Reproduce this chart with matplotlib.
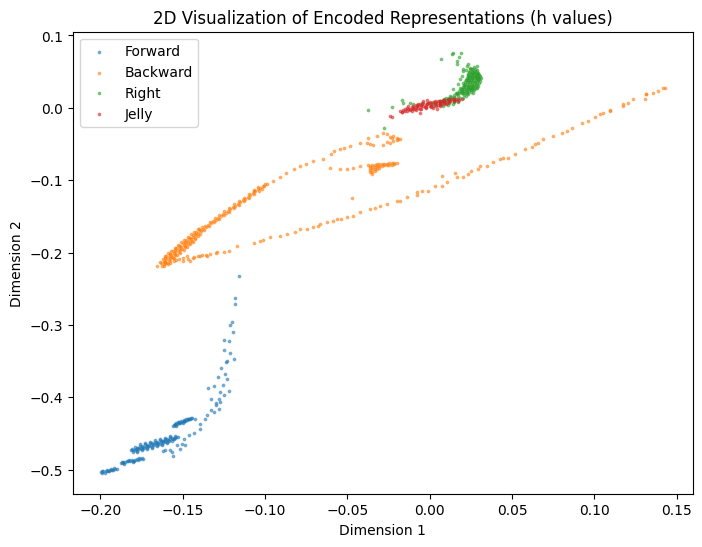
import numpy as np
import matplotlib
matplotlib.use("Agg")
import matplotlib.pyplot as plt

# points (Dimension 1, Dimension 2)
forward_pts = [
    # sparse tail going up
    (-0.1161, -0.2328), (-0.1181, -0.2632), (-0.1185, -0.2710), (-0.1199, -0.2963),
    (-0.1211, -0.3000), (-0.1193, -0.3092), (-0.1221, -0.3221), (-0.1248, -0.3207),
    (-0.1252, -0.3345), (-0.1211, -0.3390), (-0.1187, -0.3469), (-0.1231, -0.3492),
    (-0.1237, -0.3514), (-0.1268, -0.3597), (-0.1242, -0.3676), (-0.1288, -0.3721),
    (-0.1231, -0.3745), (-0.1258, -0.3828), (-0.1349, -0.3873), (-0.1313, -0.3846),
    (-0.1217, -0.3915), (-0.1272, -0.3928), (-0.1326, -0.4021), (-0.1282, -0.4021),
    (-0.1252, -0.3975), (-0.1276, -0.4066), (-0.1298, -0.4113), (-0.1282, -0.4159),
    (-0.1313, -0.4204), (-0.1353, -0.4251), (-0.1363, -0.4297), (-0.1393, -0.4366),
    (-0.1424, -0.4297), (-0.1393, -0.4434), (-0.1434, -0.4490), (-0.1464, -0.4527),
    (-0.1495, -0.4572), (-0.1330, -0.4180), (-0.1300, -0.4080),
    # scattered under the big cluster
    (-0.1504, -0.4641), (-0.1535, -0.4665), (-0.1575, -0.4734), (-0.1605, -0.4734),
    (-0.1565, -0.4756), (-0.1515, -0.4710), (-0.1484, -0.4655), (-0.1559, -0.4811),
    (-0.1620, -0.4742),
    # small cluster near -0.435
    (-0.1555, -0.4389), (-0.1545, -0.4380), (-0.1535, -0.4371), (-0.1525, -0.4361),
    (-0.1515, -0.4352), (-0.1505, -0.4343), (-0.1495, -0.4334), (-0.1485, -0.4325),
    (-0.1475, -0.4315), (-0.1465, -0.4306), (-0.1455, -0.4297), (-0.1445, -0.4288),
    (-0.1530, -0.4345), (-0.1510, -0.4330), (-0.1490, -0.4315), (-0.1470, -0.4295),
    (-0.1540, -0.4395), (-0.1500, -0.4360), (-0.1550, -0.4375), (-0.1520, -0.4348),
    (-0.1490, -0.4322), (-0.1460, -0.4296), (-0.1540, -0.4360), (-0.1480, -0.4305),
    (-0.1450, -0.4280), (-0.1560, -0.4400),
    # big cluster near -0.465
    (-0.1815, -0.4732), (-0.1800, -0.4723), (-0.1785, -0.4713), (-0.1770, -0.4704),
    (-0.1755, -0.4694), (-0.1740, -0.4685), (-0.1725, -0.4675), (-0.1710, -0.4666),
    (-0.1695, -0.4656), (-0.1680, -0.4647), (-0.1665, -0.4637), (-0.1650, -0.4628),
    (-0.1635, -0.4619), (-0.1620, -0.4609), (-0.1605, -0.4600), (-0.1590, -0.4590),
    (-0.1575, -0.4581), (-0.1560, -0.4571), (-0.1545, -0.4562), (-0.1530, -0.4552),
    (-0.1790, -0.4686), (-0.1760, -0.4667), (-0.1730, -0.4648), (-0.1700, -0.4630),
    (-0.1670, -0.4611), (-0.1640, -0.4592), (-0.1610, -0.4573), (-0.1580, -0.4554),
    (-0.1550, -0.4535),
    (-0.1805, -0.4756), (-0.1775, -0.4737), (-0.1745, -0.4718), (-0.1715, -0.4699),
    (-0.1685, -0.4680), (-0.1655, -0.4661), (-0.1625, -0.4642), (-0.1595, -0.4623),
    (-0.1565, -0.4604),
    (-0.1808, -0.4713), (-0.1778, -0.4694), (-0.1748, -0.4675), (-0.1718, -0.4656),
    (-0.1688, -0.4637), (-0.1658, -0.4618), (-0.1628, -0.4599), (-0.1598, -0.4580),
    (-0.1568, -0.4561), (-0.1538, -0.4542),
    (-0.1793, -0.4733), (-0.1763, -0.4714), (-0.1733, -0.4695), (-0.1703, -0.4676),
    (-0.1673, -0.4658), (-0.1643, -0.4639), (-0.1613, -0.4620), (-0.1583, -0.4601),
    (-0.1553, -0.4582),
    (-0.1760, -0.4652), (-0.1730, -0.4633), (-0.1700, -0.4615), (-0.1670, -0.4596),
    (-0.1640, -0.4577), (-0.1610, -0.4558), (-0.1580, -0.4539),
    (-0.1775, -0.4752), (-0.1745, -0.4733), (-0.1715, -0.4714), (-0.1685, -0.4695),
    (-0.1655, -0.4676), (-0.1625, -0.4657), (-0.1595, -0.4638),
    # cluster near -0.488
    (-0.1878, -0.4903), (-0.1863, -0.4897), (-0.1848, -0.4891), (-0.1833, -0.4885),
    (-0.1818, -0.4880), (-0.1803, -0.4874), (-0.1788, -0.4868), (-0.1773, -0.4862),
    (-0.1758, -0.4856), (-0.1743, -0.4850), (-0.1855, -0.4915), (-0.1825, -0.4870),
    (-0.1795, -0.4885), (-0.1765, -0.4842), (-0.1870, -0.4890), (-0.1840, -0.4878),
    (-0.1810, -0.4866), (-0.1780, -0.4855), (-0.1750, -0.4843), (-0.1860, -0.4910),
    (-0.1800, -0.4890),
    # cluster near -0.50
    (-0.1996, -0.5032), (-0.1982, -0.5025), (-0.1968, -0.5019), (-0.1954, -0.5012),
    (-0.1940, -0.5005), (-0.1926, -0.4999), (-0.1912, -0.4992), (-0.1900, -0.4986),
    (-0.1975, -0.5040), (-0.1950, -0.5025), (-0.1935, -0.4992), (-0.1990, -0.5020),
    (-0.1960, -0.5005), (-0.1930, -0.5000), (-0.1990, -0.5042), (-0.1915, -0.4980),
]

backward_pts = [
    # upper band, dense part
    (-0.1656, -0.2182), (-0.1630, -0.2148), (-0.1615, -0.2120), (-0.1600, -0.2092),
    (-0.1585, -0.2065), (-0.1570, -0.2037), (-0.1555, -0.2009), (-0.1540, -0.1981),
    (-0.1525, -0.1954), (-0.1510, -0.1926), (-0.1495, -0.1898), (-0.1480, -0.1870),
    (-0.1465, -0.1842), (-0.1450, -0.1814), (-0.1435, -0.1785), (-0.1420, -0.1757),
    (-0.1405, -0.1729), (-0.1390, -0.1700), (-0.1375, -0.1672), (-0.1360, -0.1644),
    (-0.1345, -0.1617), (-0.1330, -0.1593), (-0.1315, -0.1568), (-0.1300, -0.1544),
    (-0.1285, -0.1520), (-0.1270, -0.1496), (-0.1255, -0.1471), (-0.1240, -0.1447),
    (-0.1225, -0.1423), (-0.1210, -0.1398), (-0.1195, -0.1375), (-0.1180, -0.1351),
    (-0.1165, -0.1327), (-0.1150, -0.1303), (-0.1135, -0.1279), (-0.1120, -0.1255),
    (-0.1105, -0.1230), (-0.1090, -0.1205), (-0.1075, -0.1179), (-0.1060, -0.1154),
    (-0.1045, -0.1128), (-0.1030, -0.1103), (-0.1015, -0.1077), (-0.1000, -0.1052),
    (-0.1620, -0.2089), (-0.1600, -0.2052), (-0.1580, -0.2015), (-0.1560, -0.1978),
    (-0.1540, -0.1941), (-0.1520, -0.1904), (-0.1500, -0.1867), (-0.1480, -0.1830),
    (-0.1460, -0.1793), (-0.1440, -0.1755), (-0.1420, -0.1717), (-0.1400, -0.1679),
    (-0.1380, -0.1641),
    (-0.1625, -0.2179), (-0.1605, -0.2142), (-0.1585, -0.2105), (-0.1565, -0.2068),
    (-0.1545, -0.2031), (-0.1525, -0.1994), (-0.1505, -0.1956), (-0.1485, -0.1919),
    (-0.1465, -0.1882), (-0.1445, -0.1844), (-0.1425, -0.1806), (-0.1405, -0.1769),
    (-0.1637, -0.2133), (-0.1607, -0.2077), (-0.1577, -0.2022), (-0.1547, -0.1966),
    (-0.1517, -0.1911), (-0.1487, -0.1855), (-0.1457, -0.1799), (-0.1427, -0.1742),
    (-0.1397, -0.1685), (-0.1367, -0.1629), (-0.1337, -0.1578), (-0.1307, -0.1529),
    (-0.1277, -0.1481), (-0.1247, -0.1432), (-0.1217, -0.1383), (-0.1187, -0.1336),
    (-0.1157, -0.1288), (-0.1127, -0.1240), (-0.1097, -0.1190), (-0.1067, -0.1139),
    (-0.1608, -0.2135), (-0.1578, -0.2080), (-0.1548, -0.2024), (-0.1518, -0.1969),
    (-0.1488, -0.1913), (-0.1458, -0.1857), (-0.1428, -0.1800), (-0.1398, -0.1744),
    (-0.1368, -0.1687), (-0.1338, -0.1632), (-0.1308, -0.1583), (-0.1278, -0.1535),
    (-0.1248, -0.1486), (-0.1218, -0.1438), (-0.1188, -0.1390), (-0.1158, -0.1342),
    (-0.1128, -0.1294), (-0.1098, -0.1245), (-0.1068, -0.1194), (-0.1038, -0.1143),
    (-0.1610, -0.2046), (-0.1590, -0.2009), (-0.1570, -0.1972), (-0.1550, -0.1935),
    (-0.1530, -0.1898), (-0.1510, -0.1861), (-0.1490, -0.1824), (-0.1470, -0.1786),
    (-0.1450, -0.1749), (-0.1430, -0.1711), (-0.1410, -0.1673),
    (-0.1615, -0.2185), (-0.1595, -0.2148), (-0.1575, -0.2111), (-0.1555, -0.2074),
    (-0.1535, -0.2037), (-0.1515, -0.2000), (-0.1495, -0.1963), (-0.1475, -0.1926),
    (-0.1455, -0.1888), (-0.1435, -0.1850),
    (-0.1070, -0.1150), (-0.1040, -0.1100), (-0.1020, -0.1115), (-0.1005, -0.1080),
    # upper band, sparse continuation
    (-0.0988, -0.1055), (-0.0908, -0.0963), (-0.0827, -0.0848), (-0.0786, -0.0803),
    (-0.0706, -0.0734), (-0.0645, -0.0701), (-0.0584, -0.0596), (-0.0544, -0.0563),
    (-0.0483, -0.0527), (-0.0422, -0.0480), (-0.0372, -0.0411), (-0.0321, -0.0389),
    (-0.0281, -0.0342), (-0.0950, -0.1010), (-0.0870, -0.0900), (-0.0750, -0.0770),
    (-0.0600, -0.0640), (-0.0520, -0.0560),
    # upper band, end cluster
    (-0.0260, -0.0366), (-0.0220, -0.0389), (-0.0180, -0.0425), (-0.0240, -0.0480),
    (-0.0281, -0.0517), (-0.0342, -0.0517), (-0.0362, -0.0503), (-0.0220, -0.0458),
    (-0.0200, -0.0411), (-0.0382, -0.0480), (-0.0240, -0.0400), (-0.0200, -0.0440),
    (-0.0190, -0.0430), (-0.0230, -0.0420), (-0.0260, -0.0470),
    # middle branch
    (-0.0604, -0.0825), (-0.0544, -0.0848), (-0.0503, -0.0839), (-0.0463, -0.0825),
    (-0.0422, -0.0803), (-0.0372, -0.0793), (-0.0473, -0.1252),
    (-0.0365, -0.0800), (-0.0365, -0.0830), (-0.0365, -0.0860), (-0.0365, -0.0890),
    (-0.0350, -0.0790), (-0.0350, -0.0820), (-0.0350, -0.0850), (-0.0350, -0.0885),
    (-0.0350, -0.0910), (-0.0335, -0.0785), (-0.0335, -0.0815), (-0.0335, -0.0845),
    (-0.0335, -0.0875), (-0.0320, -0.0780), (-0.0320, -0.0810), (-0.0320, -0.0840),
    (-0.0305, -0.0778), (-0.0305, -0.0805), (-0.0305, -0.0830), (-0.0290, -0.0775),
    (-0.0290, -0.0800), (-0.0275, -0.0772), (-0.0275, -0.0795), (-0.0260, -0.0770),
    (-0.0260, -0.0790), (-0.0245, -0.0768), (-0.0245, -0.0788), (-0.0230, -0.0765),
    (-0.0230, -0.0785), (-0.0215, -0.0762), (-0.0215, -0.0780), (-0.0200, -0.0760),
    # lower branch
    (-0.1616, -0.2159), (-0.1555, -0.2113), (-0.1474, -0.2044), (-0.1454, -0.2113),
    (-0.1393, -0.2044), (-0.1332, -0.2021), (-0.1292, -0.1997), (-0.1221, -0.1975),
    (-0.1171, -0.1906), (-0.1070, -0.1869), (-0.1029, -0.1837), (-0.0968, -0.1790),
    (-0.0908, -0.1768), (-0.0867, -0.1745), (-0.0786, -0.1676), (-0.0746, -0.1676),
    (-0.0706, -0.1652), (-0.0665, -0.1607), (-0.0624, -0.1583), (-0.0564, -0.1538),
    (-0.0503, -0.1514), (-0.0463, -0.1492), (-0.0422, -0.1446), (-0.0362, -0.1400),
    (-0.0301, -0.1363), (-0.0260, -0.1331), (-0.0200, -0.1286), (-0.0139, -0.1239),
    (-0.0078, -0.1170), (-0.1580, -0.2140), (-0.1520, -0.2090), (-0.1500, -0.2120),
    (-0.1430, -0.2060), (-0.1360, -0.2040), (-0.1250, -0.1990), (-0.1010, -0.1820),
    (-0.0820, -0.1720), (-0.0680, -0.1630), (-0.0590, -0.1560), (-0.0540, -0.1530),
    (-0.0330, -0.1380), (-0.1560, -0.2080), (-0.1540, -0.2100), (-0.1500, -0.2080),
    (-0.1470, -0.2090), (-0.1440, -0.2070), (-0.1410, -0.2050), (-0.1380, -0.2030),
    (-0.1350, -0.2050), (-0.1300, -0.2010), (-0.1610, -0.2130), (-0.1590, -0.2160),
    (-0.0180, -0.1286), (-0.0078, -0.1207), (-0.0048, -0.1148), (-0.0008, -0.1148),
    (0.0033, -0.1079), (0.0073, -0.1079), (0.0073, -0.0949), (0.0104, -0.1032),
    (0.0154, -0.0894), (0.0164, -0.0963), (0.0205, -0.0963), (0.0235, -0.0917),
    (0.0296, -0.0848), (0.0306, -0.0803), (0.0346, -0.0803), (0.0387, -0.0748),
    (0.0427, -0.0710), (0.0478, -0.0687), (0.0518, -0.0641), (0.0579, -0.0572),
    (0.0620, -0.0535), (0.0660, -0.0480), (0.0690, -0.0434), (0.0751, -0.0389),
    (0.0802, -0.0342), (0.0832, -0.0320), (0.0862, -0.0273), (0.0923, -0.0204),
    (0.0963, -0.0182), (0.1004, -0.0121), (0.1034, -0.0090), (0.1054, -0.0066),
    (0.1095, -0.0030), (0.1095, -0.0044), (0.1175, 0.0048), (0.1175, 0.0025),
    (0.1206, 0.0072), (0.1236, 0.0127), (0.1307, 0.0127), (0.1313, 0.0186),
    (0.1317, 0.0186), (0.1357, 0.0200), (0.1388, 0.0232), (0.1418, 0.0269),
    (0.1428, 0.0269), (0.0250, -0.0880), (0.0445, -0.0700), (0.0640, -0.0500),
]

right_pts = [
    (0.0134, 0.0738), (0.0144, 0.0761), (0.0191, 0.0761), (0.0180, 0.0706),
    (0.0164, 0.0646), (0.0168, 0.0600), (0.0069, 0.0669),
    (-0.0099, 0.0048), (-0.0018, 0.0072), (0.0063, 0.0094), (0.0124, 0.0127),
    (0.0164, 0.0186), (0.0195, 0.0255), (0.0215, 0.0324), (0.0235, 0.0393),
    (0.0255, 0.0462), (0.0275, 0.0508), (0.0245, 0.0554), (0.0225, 0.0577),
    (0.0296, 0.0486), (0.0286, 0.0393), (0.0265, 0.0301), (0.0225, 0.0210),
    (0.0184, 0.0141), (0.0205, 0.0508), (0.0184, 0.0393), (0.0265, 0.0210),
    (0.0245, 0.0255), (0.0306, 0.0439), (0.0286, 0.0577), (0.0235, 0.0600),
    (0.0195, 0.0439), (0.0174, 0.0324), (0.0144, 0.0255), (0.0205, 0.0531),
    (0.0296, 0.0393), (0.0184, 0.0279), (0.0124, 0.0163),
    (0.0280, 0.0440), (0.0270, 0.0360), (0.0250, 0.0330), (0.0240, 0.0280),
    (0.0220, 0.0250), (0.0200, 0.0200), (0.0210, 0.0170), (0.0170, 0.0160),
    (0.0150, 0.0130), (0.0100, 0.0110), (0.0080, 0.0100), (0.0040, 0.0085),
    (0.0260, 0.0420), (0.0300, 0.0460), (0.0290, 0.0520), (0.0260, 0.0500),
    (0.0230, 0.0460), (0.0250, 0.0380), (0.0230, 0.0350), (0.0210, 0.0300),
    (0.0260, 0.0250), (0.0280, 0.0330), (0.0290, 0.0280), (0.0270, 0.0560),
    (0.0300, 0.0400),
    (0.0120, 0.0090), (0.0150, 0.0100), (0.0180, 0.0110), (0.0200, 0.0130),
    (0.0220, 0.0160), (0.0235, 0.0190), (0.0250, 0.0220), (0.0270, 0.0240),
    (0.0280, 0.0270), (0.0295, 0.0300), (0.0300, 0.0340), (0.0305, 0.0370),
    (0.0295, 0.0420), (0.0310, 0.0410), (0.0285, 0.0470), (0.0270, 0.0480),
    (0.0240, 0.0420), (0.0220, 0.0390), (0.0200, 0.0340), (0.0190, 0.0220),
    (0.0160, 0.0200), (0.0130, 0.0150), (0.0100, 0.0130), (0.0060, 0.0070),
    (0.0020, 0.0060), (0.0260, 0.0530), (0.0240, 0.0500), (0.0220, 0.0520),
    (0.0275, 0.0430), (0.0255, 0.0280), (0.0230, 0.0300),
    # dense crescent body
    (0.0165, 0.0200), (0.0180, 0.0200), (0.0195, 0.0200), (0.0210, 0.0200), (0.0225, 0.0200),
    (0.0180, 0.0230), (0.0195, 0.0230), (0.0210, 0.0230), (0.0225, 0.0230), (0.0240, 0.0230),
    (0.0190, 0.0260), (0.0205, 0.0260), (0.0220, 0.0260), (0.0235, 0.0260), (0.0250, 0.0260),
    (0.0265, 0.0260), (0.0200, 0.0290), (0.0215, 0.0290), (0.0230, 0.0290), (0.0245, 0.0290),
    (0.0260, 0.0290), (0.0275, 0.0290), (0.0210, 0.0320), (0.0225, 0.0320), (0.0240, 0.0320),
    (0.0255, 0.0320), (0.0270, 0.0320), (0.0285, 0.0320), (0.0215, 0.0350), (0.0230, 0.0350),
    (0.0245, 0.0350), (0.0260, 0.0350), (0.0275, 0.0350), (0.0290, 0.0350), (0.0220, 0.0380),
    (0.0235, 0.0380), (0.0250, 0.0380), (0.0265, 0.0380), (0.0280, 0.0380), (0.0295, 0.0380),
    (0.0225, 0.0410), (0.0240, 0.0410), (0.0255, 0.0410), (0.0270, 0.0410), (0.0285, 0.0410),
    (0.0300, 0.0410), (0.0230, 0.0440), (0.0245, 0.0440), (0.0260, 0.0440), (0.0275, 0.0440),
    (0.0290, 0.0440), (0.0235, 0.0470), (0.0250, 0.0470), (0.0265, 0.0470), (0.0280, 0.0470),
    (0.0295, 0.0470), (0.0240, 0.0500), (0.0255, 0.0500), (0.0270, 0.0500), (0.0285, 0.0500),
    (0.0245, 0.0530), (0.0260, 0.0530), (0.0275, 0.0530),
    (0.0060, 0.0050), (0.0060, 0.0075), (0.0060, 0.0100), (0.0090, 0.0055),
    (0.0090, 0.0080), (0.0090, 0.0105), (0.0090, 0.0125), (0.0120, 0.0065),
    (0.0120, 0.0090), (0.0120, 0.0115), (0.0120, 0.0140), (0.0150, 0.0075),
    (0.0150, 0.0100), (0.0150, 0.0125), (0.0150, 0.0150), (0.0150, 0.0175),
    # sparse points on the left
    (-0.0372, -0.0034), (-0.0226, 0.0011), (-0.0169, 0.0103), (-0.0163, 0.0062),
    (-0.0119, 0.0072), (-0.0275, -0.0273), (-0.0058, 0.0048),
    (0.0083, 0.0025), (0.0144, 0.0048), (0.0022, 0.0025), (0.0110, 0.0040),
    (0.0170, 0.0080),
]

jelly_pts = [
    (-0.0180, -0.0044), (-0.0149, -0.0021), (-0.0119, -0.0021), (-0.0099, 0.0003),
    (-0.0069, 0.0003), (-0.0038, 0.0025), (-0.0018, 0.0048), (0.0002, 0.0072),
    (0.0033, 0.0062), (0.0063, 0.0080), (0.0083, 0.0094), (0.0113, 0.0108),
    (0.0144, 0.0117), (0.0174, 0.0127), (0.0195, 0.0127), (-0.0038, 0.0094),
    (-0.0018, 0.0108), (-0.0078, 0.0025), (-0.0139, 0.0003), (0.0022, 0.0003),
    (0.0063, 0.0025), (0.0104, 0.0062), (0.0043, -0.0021), (-0.0058, -0.0076),
    (-0.0240, -0.0113), (-0.0230, -0.0127), (-0.0169, -0.0058), (-0.0048, 0.0072),
    (-0.0160, -0.0030), (-0.0130, -0.0010), (-0.0100, -0.0015), (-0.0085, 0.0015),
    (-0.0055, 0.0020), (-0.0025, 0.0040), (0.0010, 0.0050), (0.0040, 0.0070),
    (0.0070, 0.0060), (0.0095, 0.0080), (0.0125, 0.0095), (0.0155, 0.0105),
    (-0.0020, 0.0010), (0.0010, 0.0030), (0.0050, 0.0045), (-0.0070, 0.0055),
    (-0.0150, -0.0040), (-0.0120, -0.0035), (-0.0090, -0.0010), (-0.0060, -0.0010),
    (-0.0030, 0.0005), (0.0000, 0.0020), (0.0030, 0.0035), (0.0060, 0.0050),
    (0.0090, 0.0065), (0.0120, 0.0075), (0.0150, 0.0090), (0.0175, 0.0100),
    (-0.0110, 0.0010), (-0.0080, 0.0035), (-0.0050, 0.0045), (-0.0010, 0.0065),
    (0.0020, 0.0080), (0.0050, 0.0090), (0.0080, 0.0105), (0.0110, 0.0115),
    (-0.0170, -0.0060), (-0.0140, -0.0050), (-0.0110, -0.0040), (-0.0080, -0.0025),
    (-0.0050, -0.0015), (-0.0020, 0.0000), (0.0010, 0.0015), (0.0040, 0.0030),
    (0.0070, 0.0040), (0.0100, 0.0055), (-0.0130, 0.0020), (-0.0100, 0.0030),
    (-0.0070, 0.0040), (-0.0040, 0.0060), (0.0000, 0.0085), (0.0030, 0.0095),
    (0.0060, 0.0100), (0.0090, 0.0110), (0.0130, 0.0120), (0.0160, 0.0125),
]

labels = ["Forward", "Backward", "Right", "Jelly"]
series = [forward_pts, backward_pts, right_pts, jelly_pts]

fig = plt.figure(figsize=(8, 6))
for name, pts in zip(labels, series):
    arr = np.array(pts)
    plt.scatter(arr[:, 0], arr[:, 1], s=3, alpha=0.5, label=name)

plt.title("2D Visualization of Encoded Representations (h values)")
plt.xlabel("Dimension 1")
plt.ylabel("Dimension 2")
plt.legend(loc="upper left")
plt.savefig("out.png", dpi=100, bbox_inches="tight")
